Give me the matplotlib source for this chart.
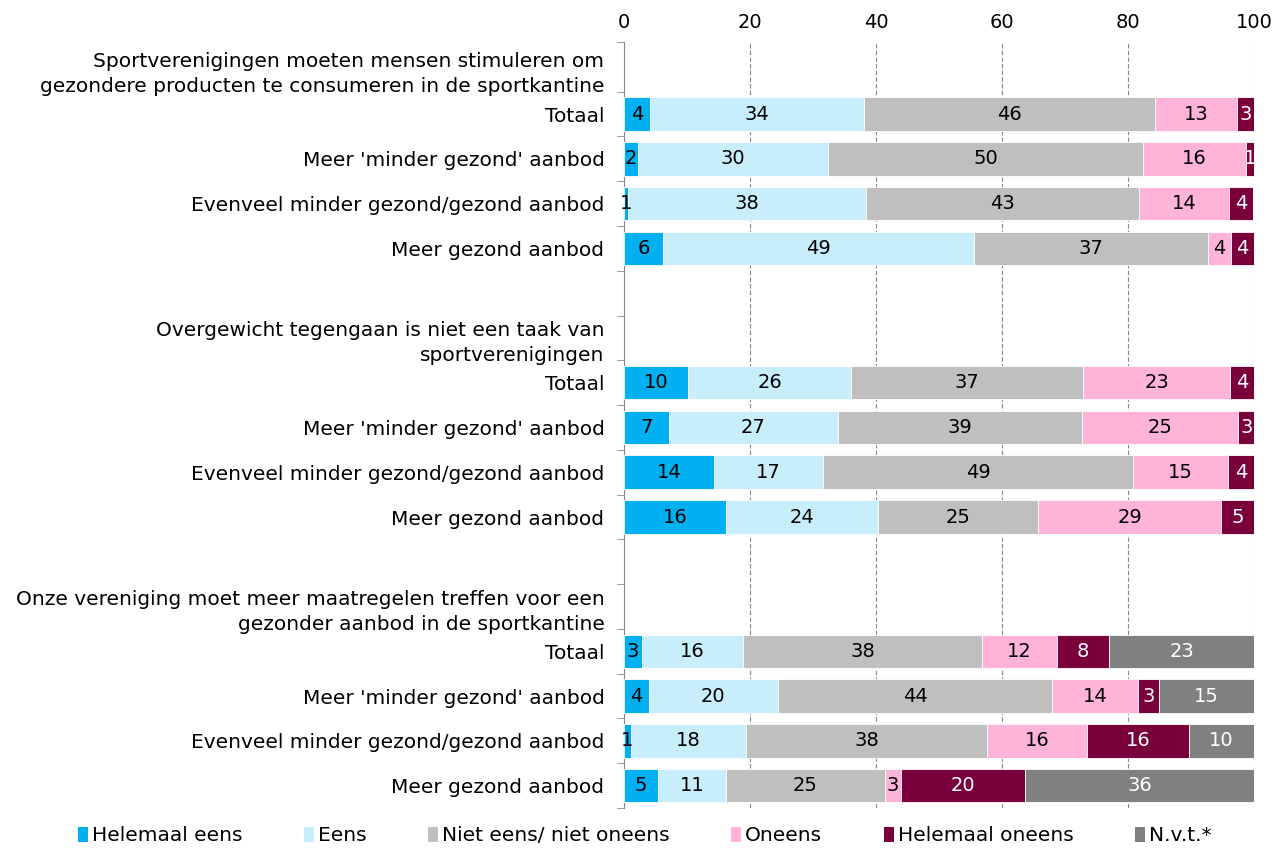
import matplotlib.pyplot as plt
from matplotlib.patches import Patch

questions = [
    "Sportverenigingen moeten mensen stimuleren om\ngezondere producten te consumeren in de sportkantine",
    "Overgewicht tegengaan is niet een taak van\nsportverenigingen",
    "Onze vereniging moet meer maatregelen treffen voor een\ngezonder aanbod in de sportkantine",
]
rows = ["Totaal", "Meer 'minder gezond' aanbod",
        "Evenveel minder gezond/gezond aanbod", "Meer gezond aanbod"]
series = ["Helemaal eens", "Eens", "Niet eens/ niet oneens",
          "Oneens", "Helemaal oneens", "N.v.t.*"]
colors = ["#00B0F0", "#C9EEFB", "#BFBFBF", "#FFB3D9", "#7A003C", "#808080"]
text_colors = ["black", "black", "black", "black", "white", "white"]

# 3 questions x 4 rows, in order
helemaal_eens = [4.1, 2.2, 0.6, 6.2, 10.2, 7.1, 14.3, 16.2, 2.9, 4.0, 1.1, 5.4]
eens = [34.0, 30.2, 37.8, 49.4, 25.9, 26.9, 17.3, 24.1, 16.0, 20.4, 18.3, 10.8]
neutraal = [46.2, 50.0, 43.4, 37.1, 36.8, 38.7, 49.2, 25.4, 37.9, 43.6, 38.2, 25.2]
oneens = [13.0, 16.3, 14.3, 3.6, 23.3, 24.8, 15.1, 29.1, 11.9, 13.6, 15.9, 2.6]
helemaal_oneens = [2.7, 1.3, 3.8, 3.7, 3.8, 2.6, 4.1, 5.2, 8.3, 3.3, 16.2, 19.7]
nvt = [0, 0, 0, 0, 0, 0, 0, 0, 23.0, 15.2, 10.3, 36.3]
values = [helemaal_eens, eens, neutraal, oneens, helemaal_oneens, nvt]

plt.rcParams['font.family'] = ['DejaVu Sans']
fig = plt.figure(figsize=(12.87, 8.5), dpi=100)
ax = fig.add_axes([0.4848, 0.0494, 0.4896, 0.9012])

# slot positions: title slot, 4 rows, blank slot per question
ypos = []
ticks = []
ticklabels = []
for g, q in enumerate(questions):
    ticks.append(g * 6)
    ticklabels.append(q)
    for r, name in enumerate(rows):
        ypos.append(g * 6 + 1 + r)
        ticks.append(g * 6 + 1 + r)
        ticklabels.append(name)

left = [0.0] * len(ypos)
for s in range(len(series)):
    vals = values[s]
    ax.barh(ypos, vals, left=left, height=0.75, color=colors[s],
            edgecolor="white", linewidth=0.6, label=series[s], zorder=3)
    for i, v in enumerate(vals):
        if v > 0:
            ax.text(left[i] + v / 2, ypos[i], f"{v:.0f}", ha="center",
                    va="center", fontsize=14, color=text_colors[s], zorder=4)
    left = [a + b for a, b in zip(left, vals)]

ax.set_xlim(0, 100)
ax.set_ylim(16.5, -0.61)
ax.xaxis.tick_top()
ax.set_xticks([0, 20, 40, 60, 80, 100])
ax.tick_params(axis="x", length=0, labelsize=14, pad=7)
ax.set_yticks(ticks)
ax.set_yticklabels(ticklabels, fontsize=14.5, linespacing=1.4)
ax.set_yticks([-0.61] + [t + 0.5 for t in range(0, 17)], minor=True)
ax.tick_params(axis="y", which="major", length=0, pad=14)
ax.tick_params(axis="y", which="minor", length=5, color="#888888", direction="out")
ax.grid(axis="x", color="#888888", linestyle=(0, (4, 2)), linewidth=0.8, zorder=0)
for side in ["top", "right", "bottom"]:
    ax.spines[side].set_visible(False)
ax.spines["left"].set_color("#888888")

handles = [Patch(facecolor=c, label=l) for c, l in zip(colors, series)]
fig.legend(handles=handles, loc="center", bbox_to_anchor=(0.501, 0.0165), ncol=6,
           frameon=False, fontsize=14.5, handlelength=0.5, handleheight=0.8,
           handletextpad=0.2, columnspacing=3.05)

fig.savefig("out.png", dpi=100)
